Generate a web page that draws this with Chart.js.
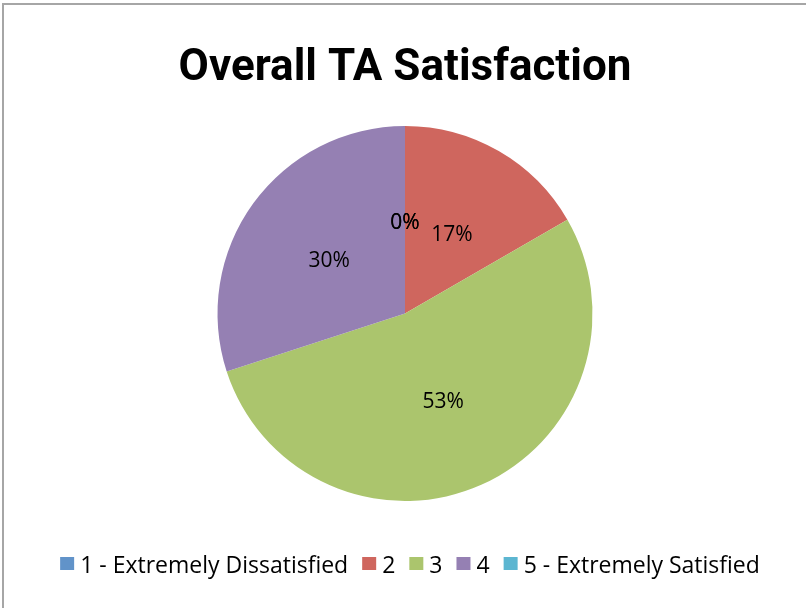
<!DOCTYPE html>
<html>
<head>
<meta charset="utf-8">
<script src="https://cdn.jsdelivr.net/npm/chart.js@4/dist/chart.umd.min.js"></script>
<style>
    html, body { margin: 0; padding: 0; background: #fff; }
    #wrap { position: relative; width: 806px; height: 608px; overflow: hidden; }
    /* frame of the chart object: only the top and left edges fall inside the page */
    #frame {
        position: absolute; left: 2px; top: 3px; width: 900px; height: 700px;
        border-left: 2px solid #a6a6a6; border-top: 2px solid #a6a6a6;
    }
    canvas { position: absolute; left: 0; top: 0; }
</style>
</head>
<body>
<div id="wrap">
    <div id="frame"></div>
    <canvas id="chart" width="806" height="608"></canvas>
</div>
<script>
// survey answers, one slice per rating
const TITLE = "Overall TA Satisfaction";
const categories = ["1 - Extremely Dissatisfied", "2", "3", "4", "5 - Extremely Satisfied"];
const responses = [0, 5, 16, 9, 0];
const sliceColors = ["#6193C9", "#CF665E", "#ABC56D", "#9580B3", "#5CB6D1"];

const TITLE_FONT = "Roboto, 'Liberation Sans', sans-serif";
const TEXT_FONT = "'Open Sans', 'Liberation Sans', sans-serif";
const total = responses.reduce((a, b) => a + b, 0);

function pct(v) {
    return Math.round((v / total) * 100) + "%";
}

// title + percentage labels + legend row, drawn on top of the pie
const decorations = {
    id: "decorations",
    afterDatasetsDraw(chart) {
        const ctx = chart.ctx;
        ctx.save();
        ctx.fillStyle = "#000";

        // percentage in the middle of every slice (zero slices too)
        ctx.font = "21px " + TEXT_FONT;
        ctx.textAlign = "center";
        ctx.textBaseline = "middle";
        chart.getDatasetMeta(0).data.forEach((arc, i) => {
            const p = arc.tooltipPosition();
            ctx.fillText(pct(responses[i]), p.x, p.y + 3);
        });

        // title
        ctx.font = "bold 44px " + TITLE_FONT;
        ctx.textBaseline = "alphabetic";
        ctx.fillText(TITLE, 405, 80);

        // legend: small square + label, centred under the pie
        ctx.font = "23px " + TEXT_FONT;
        const boxW = 14, boxH = 13, gapText = 6, gapItem = 14;
        const widths = categories.map((c) => ctx.measureText(c).width);
        let full = 0;
        widths.forEach((w) => { full += boxW + gapText + w; });
        full += gapItem * (categories.length - 1);
        let x = 410 - full / 2;
        ctx.textAlign = "left";
        categories.forEach((c, i) => {
            ctx.fillStyle = sliceColors[i];
            ctx.fillRect(x, 557, boxW, boxH);
            ctx.fillStyle = "#000";
            ctx.fillText(c, x + boxW + gapText, 573);
            x += boxW + gapText + widths[i] + gapItem;
        });
        ctx.restore();
    },
};

new Chart(document.getElementById("chart"), {
    type: "pie",
    data: {
        labels: categories,
        datasets: [{
            data: responses,
            backgroundColor: sliceColors,
            borderWidth: 0,
        }],
    },
    options: {
        responsive: false,
        animation: false,
        layout: { padding: { top: 126, bottom: 107, left: 217, right: 213 } },
        plugins: {
            legend: { display: false },
            title: { display: false },
            tooltip: { enabled: false },
        },
    },
    plugins: [decorations],
});
</script>
</body>
</html>
